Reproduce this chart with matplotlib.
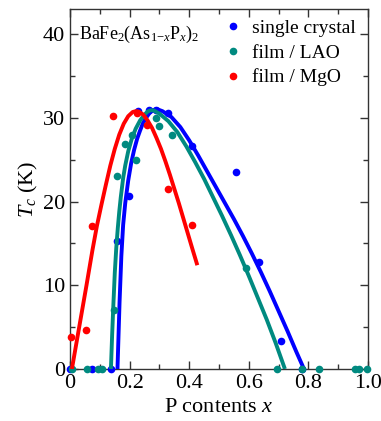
import matplotlib
matplotlib.use("Agg")
import matplotlib.pyplot as plt
from matplotlib.ticker import MultipleLocator, FuncFormatter

plt.rcParams['font.family'] = 'serif'
plt.rcParams['font.serif'] = ['Liberation Serif', 'DejaVu Serif']
plt.rcParams['mathtext.fontset'] = 'custom'
plt.rcParams['mathtext.rm'] = 'Liberation Serif'
plt.rcParams['mathtext.it'] = 'Liberation Serif:italic'
plt.rcParams['mathtext.bf'] = 'Liberation Serif:bold'

# ---- data: measured points ----
sc_x = [0.0, 0.073, 0.137, 0.157, 0.198, 0.227, 0.266, 0.289, 0.328, 0.408, 0.557, 0.635, 0.707, 0.78]
sc_y = [0.0, 0.0, 0.0, 15.3, 20.7, 30.8, 31.0, 31.0, 30.6, 26.6, 23.5, 12.8, 3.4, 0.0]

lao_x = [0.005, 0.056, 0.095, 0.106, 0.148, 0.159, 0.185, 0.207, 0.220, 0.289, 0.299, 0.343, 0.589, 0.696, 0.78, 0.837, 0.956, 0.971, 0.996]
lao_y = [0.0, 0.0, 0.0, 0.0, 7.0, 23.0, 26.9, 28.0, 25.0, 30.0, 29.0, 27.9, 12.1, 0.0, 0.0, 0.0, 0.0, 0.0, 0.0]

mgo_x = [0.002, 0.053, 0.075, 0.143, 0.226, 0.257, 0.329, 0.410]
mgo_y = [3.85, 4.6, 17.1, 30.2, 30.6, 29.1, 21.5, 17.2]

# ---- data: fit curves ----
sc_fit_x = [0.159, 0.166, 0.172, 0.178, 0.185, 0.195, 0.205, 0.215, 0.225, 0.235, 0.245, 0.255,
            0.265, 0.275, 0.285, 0.295, 0.31, 0.34, 0.37, 0.40, 0.43, 0.46, 0.49, 0.52, 0.55,
            0.58, 0.61, 0.64, 0.67, 0.70, 0.73, 0.76, 0.785]
sc_fit_y = [0.0, 8.0, 13.5, 17.2, 19.8, 22.5, 24.6, 26.2, 27.5, 28.5, 29.4, 30.0,
            30.5, 30.85, 31.0, 31.0, 30.8, 30.1, 28.9, 27.3, 25.5, 23.6, 21.7, 19.8, 17.9,
            15.9, 13.8, 11.6, 9.3, 6.9, 4.5, 2.0, 0.0]

lao_fit_x = [0.137, 0.141, 0.145, 0.150, 0.155, 0.160, 0.165, 0.170, 0.178, 0.185, 0.195, 0.207,
             0.22, 0.235, 0.25, 0.26, 0.27, 0.28, 0.30, 0.33, 0.36, 0.39, 0.42, 0.45, 0.48,
             0.51, 0.54, 0.57, 0.60, 0.63, 0.66, 0.69, 0.721]
lao_fit_y = [0.0, 4.0, 7.5, 11.5, 14.5, 16.8, 18.8, 20.5, 22.8, 24.3, 26.0, 27.5,
             28.7, 29.7, 30.4, 30.75, 30.9, 30.9, 30.5, 29.6, 28.3, 26.6, 24.7, 22.7, 20.5,
             18.3, 16.0, 13.6, 11.1, 8.5, 5.9, 3.1, 0.0]

mgo_fit_x = [0.006, 0.03, 0.055, 0.075, 0.09, 0.105, 0.12, 0.135, 0.15, 0.165, 0.18, 0.195,
             0.21, 0.22, 0.23, 0.245, 0.26, 0.275, 0.29, 0.305, 0.32, 0.335, 0.35, 0.365,
             0.38, 0.395, 0.41, 0.427]
mgo_fit_y = [0.0, 4.9, 10.0, 14.2, 17.1, 19.6, 22.0, 24.3, 26.3, 28.0, 29.3, 30.2,
             30.7, 30.8, 30.75, 30.4, 29.7, 28.8, 27.6, 26.3, 24.8, 23.2, 21.5, 19.8,
             18.0, 16.2, 14.4, 12.4]

labels = ['single crystal', 'film / LAO', 'film / MgO']
colors = ['#0000ff', '#008a80', '#ff0000']

fig = plt.figure(figsize=(3.81, 4.21), dpi=100)
ax = fig.add_axes([0.184, 0.1235, 0.782, 0.855])

series = [(sc_x, sc_y, sc_fit_x, sc_fit_y),
          (lao_x, lao_y, lao_fit_x, lao_fit_y),
          (mgo_x, mgo_y, mgo_fit_x, mgo_fit_y)]
for (px, py, fx, fy), c, lab in zip(series, colors, labels):
    ax.plot(px, py, 'o', color=c, ms=5.5, mec='none', label=lab, clip_on=False, zorder=3)
    ax.plot(fx, fy, '-', color=c, lw=2.8, solid_capstyle='butt', solid_joinstyle='round', zorder=3)

ax.set_xlim(0, 1.0)
ax.set_ylim(0, 43)
ax.xaxis.set_major_locator(MultipleLocator(0.2))
ax.xaxis.set_minor_locator(MultipleLocator(0.1))
ax.yaxis.set_major_locator(MultipleLocator(10))
ax.yaxis.set_minor_locator(MultipleLocator(5))
ax.xaxis.set_major_formatter(FuncFormatter(lambda v, p: '0' if abs(v) < 1e-9 else '%.1f' % v))
ax.yaxis.set_major_formatter(FuncFormatter(lambda v, p: '%d' % round(v)))
ax.tick_params(which='both', direction='in', top=True, right=True, labelsize=16, color='#333333')
ax.tick_params(which='major', length=6, width=1)
ax.tick_params(which='minor', length=3.5, width=1)
for s in ax.spines.values():
    s.set_color('#333333')
    s.set_linewidth(1)

ax.set_xlabel('P contents $x$', fontsize=16, labelpad=4)
ax.set_ylabel('$T_c$ (K)', fontsize=16, labelpad=2)

ax.text(0.03, 0.93, 'BaFe$_2$(As$_{1\\mathrm{-}x}$P$_x$)$_2$', transform=ax.transAxes,
        fontsize=13, ha='left', va='center')

leg = ax.legend(loc='upper right', frameon=False, fontsize=14, handlelength=0.6,
                handletextpad=0.7, labelspacing=0.36, borderaxespad=0.0,
                bbox_to_anchor=(0.985, 0.993), markerscale=1.0)

fig.canvas.draw()
for lab in ax.get_xticklabels() + ax.get_yticklabels():
    lab.set_fontfamily('Liberation Serif')

fig.savefig('out.png', dpi=100)
